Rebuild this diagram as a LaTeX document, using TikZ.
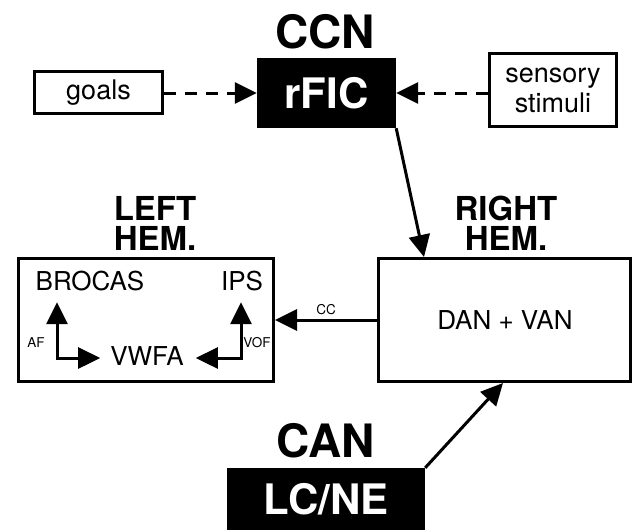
\documentclass[tikz,border=0pt]{standalone}
\usepackage{fontspec}
\setmainfont{TeX Gyre Heros}
\usetikzlibrary{arrows.meta}
\begin{document}
\begin{tikzpicture}[x=1pt,y=-1pt,
  wbox/.style={draw, line width=3pt, inner sep=0pt, align=center, font=\fontsize{27}{30}\selectfont},
  bbox/.style={fill=black, text=white, inner sep=0pt, font=\fontsize{42}{46}\selectfont\bfseries},
  title/.style={inner sep=0pt, font=\fontsize{46}{50}\selectfont\bfseries},
  hem/.style={inner sep=0pt, align=center, font=\fontsize{33}{30}\selectfont\bfseries},
  lbl/.style={inner sep=0pt, font=\fontsize{26}{30}\selectfont},
  small/.style={inner sep=0pt, font=\fontsize{13.5}{15}\selectfont},
  arr/.style={line width=3pt, -{Triangle[length=22pt,width=21pt]}},
  darr/.style={arr, dash pattern=on 12pt off 9pt},
  barr/.style={line width=3pt, {Triangle[length=22pt,width=21pt]}-{Triangle[length=22pt,width=21pt]}},
]
\useasboundingbox (0,0) rectangle (635,530);

% top row
\node[title] (ccn) at (325,32) {CCN};
\node[bbox, minimum width=139, minimum height=70] (rfic) at (326.5,93) {rFIC};
\node[wbox, minimum width=128, minimum height=42] (goals) at (98.5,92.5) {goals};
\node[wbox, minimum width=127, minimum height=73] (sens) at (553,90) {sensory\\stimuli};

\draw[darr] (goals.east |- rfic.west) -- (rfic.west);
\draw[darr] (rfic.east -| sens.west) -- (rfic.east);

% hemispheres
\node[hem] (lhem) at (155,223) {LEFT\\HEM.};
\node[hem] (rhem) at (506,223) {RIGHT\\HEM.};

\node[draw, line width=3pt, minimum width=255, minimum height=123] (left) at (146,320) {};
\node[draw, line width=3pt, minimum width=252, minimum height=123] (right) at (504.5,320) {};
\node[lbl] (danvan) at (505,320) {DAN + VAN};

\coordinate (rt) at ([xshift=47pt]right.north west);
\draw[arr] (rfic.south east) -- (rt);

\draw[arr] (right.west) -- node[small, above=3.5pt] (cc) {CC} (left.east);

% inside left hemisphere
\node[lbl] (bro) at (90,281) {BROCAS};
\node[lbl] (ips) at (242,281) {IPS};
\node[lbl] (vwfa) at (147,356) {VWFA};
\coordinate (af) at (57,358);
\coordinate (vof) at (241,358);
\draw[barr, shorten <=11pt, shorten >=10pt] (af |- bro.south) -- (af) -- (af -| vwfa.west);
\draw[barr, shorten <=11pt, shorten >=12pt] (vof |- ips.south) -- (vof) -- (vof -| vwfa.east);
\node[small] (aflbl) at (36,343) {AF};
\node[small] (voflbl) at (257,343) {VOF};

% bottom
\node[title] (can) at (326,441) {CAN};
\node[bbox, minimum width=198, minimum height=62] (lcne) at (326,499) {\raisebox{-4pt}{LC/NE}};
\coordinate (rb) at ([xshift=126pt]right.south west);
\draw[arr] (lcne.north east) -- (rb);
\end{tikzpicture}
\end{document}
